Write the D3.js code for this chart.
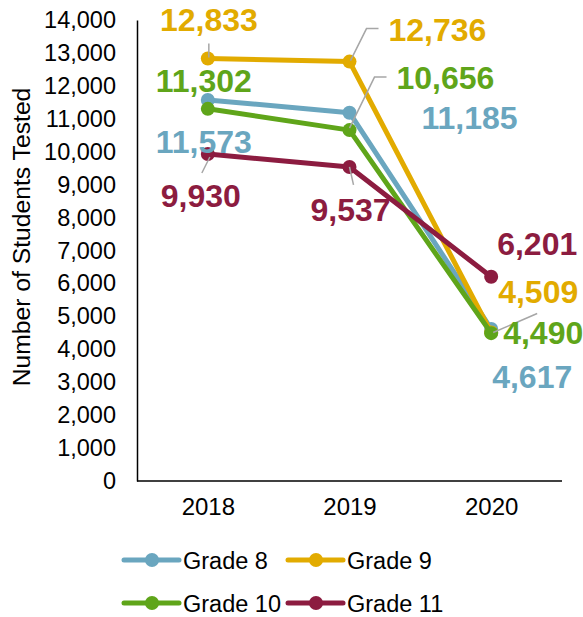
<!DOCTYPE html>
<html>
<head>
<meta charset="utf-8">
<script src="https://d3js.org/d3.v7.min.js"></script>
<style>
  body { margin: 0; background: #fff; }
  text { font-family: "Liberation Sans", Arial, sans-serif; }
</style>
</head>
<body>
<svg width="583" height="617"></svg>
<script>
const years = ["2018", "2019", "2020"];
const grades = ["Grade 8", "Grade 9", "Grade 10", "Grade 11"];
const grade8 = [11573, 11185, 4617];
const grade9 = [12833, 12736, 4509];
const grade10 = [11302, 10656, 4490];
const grade11 = [9930, 9537, 6201];
const yTicks = d3.range(0, 14001, 1000);

const colors = ["#6aa6bf", "#e2ab00", "#5fa51a", "#8c1c40"];
const values = [grade8, grade9, grade10, grade11];

// label placement: [dx, dy, anchor] relative to the point
const labelPos = [
  [[-4, 53, "middle"], [72, 16, "start"], [1, 59, "start"]],
  [[1, -27, "middle"], [39, -21, "start"], [7, -30, "start"]],
  [[-4, -17, "middle"], [47, -41, "start"], [12, 11, "start"]],
  [[-7, 53, "middle"], [1, 54, "middle"], [6, -22, "start"]]
];
// leader lines, relative to the point
const leaders = [
  [null, null, null],
  [[[1, -1], [1, -15]], [[1, -1], [17, -33], [29, -33]], [[2, 0], [46, -19]]],
  [null, [[0, -2], [25, -53], [37, -53]], null],
  [[[2, 3], [-6, 19]], [[0, 0], [4, 18]], null]
];

const svg = d3.select("svg");
const mLeft = 137, mRight = 562, mTop = 20, mBottom = 481;

const x = d3.scalePoint().domain(years).range([mLeft, mRight]).padding(0.5);
const y = d3.scaleLinear().domain([0, 14000]).range([mBottom, mTop]);

// y axis
const yAxis = svg.append("g")
  .attr("transform", "translate(" + mLeft + ",0)")
  .call(d3.axisLeft(y).tickValues(yTicks).tickSize(0).tickPadding(21).tickFormat(d3.format(",")));
yAxis.select(".domain").attr("stroke", "#000").attr("stroke-width", 1.5);
yAxis.selectAll("text").attr("font-size", 23.5).attr("fill", "#000")
  .attr("font-family", "Liberation Sans, Arial, sans-serif");

// x axis
const xAxis = svg.append("g")
  .attr("transform", "translate(0," + mBottom + ")")
  .call(d3.axisBottom(x).tickSize(0).tickPadding(17));
xAxis.select(".domain").attr("stroke", "#000").attr("stroke-width", 1.5)
  .attr("d", "M" + mLeft + ",0H" + mRight);
xAxis.selectAll("text").attr("font-size", 24).attr("fill", "#000")
  .attr("font-family", "Liberation Sans, Arial, sans-serif");

svg.append("text")
  .attr("transform", "translate(30,237) rotate(-90)")
  .attr("text-anchor", "middle")
  .attr("font-size", 24.7)
  .text("Number of Students Tested");

const line = d3.line().x((d, i) => x(years[i])).y(d => y(d));

values.forEach((vals, s) => {
  const g = svg.append("g");
  g.append("path").datum(vals)
    .attr("d", line)
    .attr("fill", "none")
    .attr("stroke", colors[s])
    .attr("stroke-width", 5)
    .attr("stroke-linejoin", "round");
  g.selectAll("circle").data(vals).enter().append("circle")
    .attr("cx", (d, i) => x(years[i]))
    .attr("cy", d => y(d))
    .attr("r", 7)
    .attr("fill", colors[s]);
});

// leader lines
values.forEach((vals, s) => {
  vals.forEach((v, i) => {
    const l = leaders[s][i];
    if (!l) return;
    const px = x(years[i]), py = y(v);
    svg.append("path")
      .attr("d", d3.line()(l.map(p => [px + p[0], py + p[1]])))
      .attr("fill", "none")
      .attr("stroke", "#a6a6a6")
      .attr("stroke-width", 1.5);
  });
});

// value labels
values.forEach((vals, s) => {
  vals.forEach((v, i) => {
    const p = labelPos[s][i];
    svg.append("text")
      .attr("x", x(years[i]) + p[0])
      .attr("y", y(v) + p[1])
      .attr("text-anchor", p[2])
      .attr("font-size", 32)
      .attr("font-weight", "bold")
      .attr("fill", colors[s])
      .text(d3.format(",")(v));
  });
});

// legend
const legendPos = [[124, 560], [288, 560], [124, 603], [288, 603]];
grades.forEach((name, s) => {
  const g = svg.append("g").attr("transform", "translate(" + legendPos[s][0] + "," + legendPos[s][1] + ")");
  g.append("line").attr("x1", 0).attr("x2", 55).attr("y1", 0).attr("y2", 0)
    .attr("stroke", colors[s]).attr("stroke-width", 5).attr("stroke-linecap", "round");
  g.append("circle").attr("cx", 28).attr("cy", 0).attr("r", 7).attr("fill", colors[s]);
  g.append("text").attr("x", 59).attr("y", 8.5).attr("font-size", 23.5).text(name);
});
</script>
</body>
</html>
